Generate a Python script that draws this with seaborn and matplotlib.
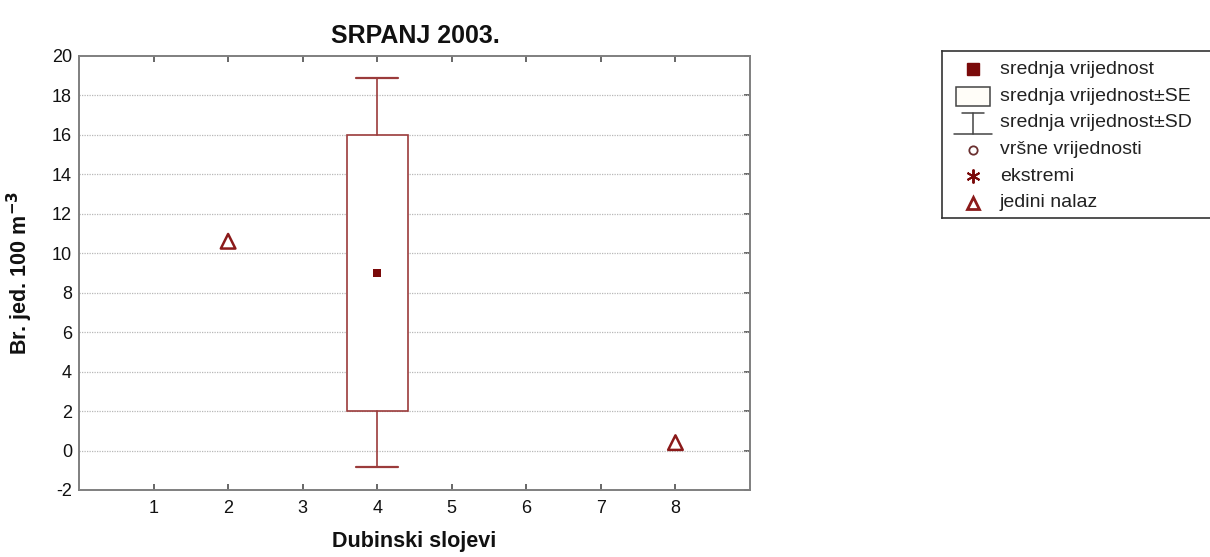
import matplotlib
matplotlib.use("Agg")
import matplotlib.pyplot as plt
from matplotlib.patches import Rectangle
import seaborn as sns
import pandas as pd

# data
box_layer = [4]
box_mean = [9.0]
box_se = [7.0]
box_sd = [9.86]
single_layers = [2, 8]
single_values = [10.6, 0.4]

x_ticks = [1, 2, 3, 4, 5, 6, 7, 8]
y_ticks = [-2, 0, 2, 4, 6, 8, 10, 12, 14, 16, 18, 20]

legend_labels = ['srednja vrijednost', 'srednja vrijednost±SE', 'srednja vrijednost±SD',
                 'vršne vrijednosti', 'ekstremi', 'jedini nalaz']

dark_red = '#7a0a0a'
box_red = '#9b3b3b'

sns.set_theme(style="white")
plt.rcParams['font.family'] = ['Liberation Sans', 'DejaVu Sans']

fig = plt.figure(figsize=(12.10, 5.57), dpi=100)
ax = fig.add_axes([79/1210, 1-490/557, (750-79)/1210, (490-55.7)/557])

# box = mean +- SE, whiskers = mean +- SD
stats = []
for m, se, sd in zip(box_mean, box_se, box_sd):
    stats.append(dict(med=m, q1=m-se, q3=m+se, whislo=m-sd, whishi=m+sd, fliers=[]))
ax.bxp(stats, positions=box_layer, widths=0.82, capwidths=0.57, showfliers=False,
       patch_artist=True, manage_ticks=False,
       boxprops=dict(facecolor='white', edgecolor=box_red, linewidth=1.2),
       whiskerprops=dict(color=box_red, linewidth=1.2),
       capprops=dict(color=box_red, linewidth=1.6),
       medianprops=dict(linewidth=0), zorder=3)

means = pd.DataFrame({'layer': box_layer, 'value': box_mean})
sns.scatterplot(data=means, x='layer', y='value', marker='s', s=40, color=dark_red,
                edgecolor=dark_red, linewidth=0, ax=ax, zorder=4)

singles = pd.DataFrame({'layer': single_layers, 'value': single_values})
sns.scatterplot(data=singles, x='layer', y='value', marker='^', s=110, facecolor='none',
                edgecolor='#8b1a1a', linewidth=1.8, ax=ax, zorder=4)

ax.set_xlim(0, 9)
ax.set_ylim(-2, 20)
ax.set_xticks(x_ticks)
ax.set_yticks(y_ticks)
ax.set_yticklabels([str(v) for v in y_ticks])
ax.tick_params(axis='x', which='both', direction='in', top=True, bottom=True, length=4,
               color='#555555', labelsize=13, pad=7, labelcolor='#111111')
ax.tick_params(axis='y', direction='in', left=False, right=True, length=4,
               color='#555555', labelsize=13, pad=5, labelcolor='#111111')
for g in y_ticks[1:-1]:
    ax.axhline(g, color='#b8b8b8', lw=0.9, ls=(0, (1, 1)), zorder=1)
for s in ax.spines.values():
    s.set_color('#7f7f7f')
    s.set_linewidth(1.4)

ax.set_xlabel('Dubinski slojevi', fontsize=15.5, fontweight='bold', color='#111111')
ax.set_ylabel('Br. jed. 100 m$^{\\mathbf{-3}}$', fontsize=15.5, fontweight='bold', color='#111111')
ax.xaxis.set_label_coords(0.5, -0.095)
ax.yaxis.set_label_coords(-0.066, 0.5)

fig.text(415/1210, 1-36/557, 'SRPANJ 2003.', fontsize=18, fontweight='bold',
         ha='center', va='center', color='#111111')

# legend box drawn by hand (box coords in pixels from its top-left corner)
lg = fig.add_axes([942/1210, 1-218/557, 275/1210, 167/557])
lg.set_xlim(0, 275)
lg.set_ylim(167, 0)
lg.set_xticks([])
lg.set_yticks([])
for s in lg.spines.values():
    s.set_color('#333333')
    s.set_linewidth(1.2)
rows = [18.5 + 26.7 * i for i in range(len(legend_labels))]
sym_x = 31
lg.plot([sym_x], [rows[0]], marker='s', ms=8.5, color=dark_red, mec=dark_red)
lg.add_patch(Rectangle((14, rows[1] - 9.5), 34, 19, fc='#fffdf8', ec='#444444', lw=1.1))
lg.plot([20, 42], [rows[2] - 10, rows[2] - 10], color='#444444', lw=1.1)
lg.plot([sym_x, sym_x], [rows[2] - 10, rows[2] + 11], color='#444444', lw=1.1)
lg.plot([12, 50], [rows[2] + 11, rows[2] + 11], color='#444444', lw=1.1)
lg.plot([sym_x], [rows[3]], marker='o', ms=6, mfc='none', mec='#6a3030', mew=1.3)
lg.plot([sym_x], [rows[4]], marker=(6, 2, 0), ms=10, color=dark_red, mew=1.4)
lg.plot([sym_x], [rows[5]], marker='^', ms=9, mfc='none', mec='#8b1a1a', mew=2)
for y, t in zip(rows, legend_labels):
    lg.text(58, y, t, fontsize=14, va='center', ha='left', color='#222222')

fig.savefig('out.png', dpi=100)
